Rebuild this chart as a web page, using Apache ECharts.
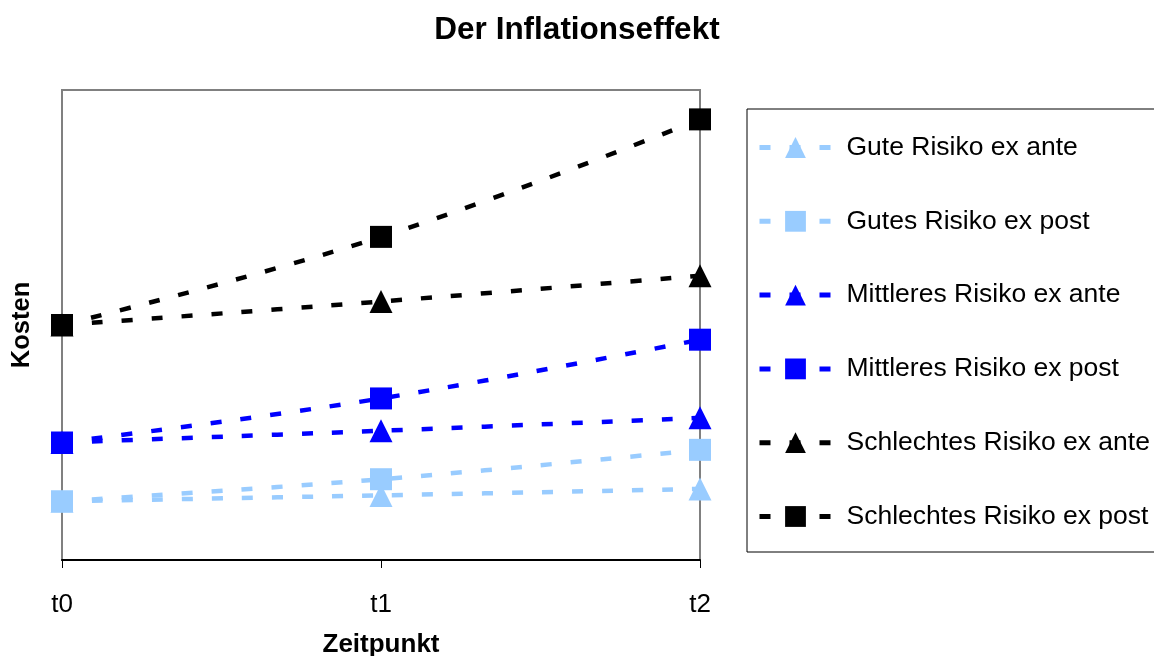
<!DOCTYPE html>
<html>
<head>
<meta charset="utf-8">
<script src="https://cdn.jsdelivr.net/npm/echarts@6/dist/echarts.min.js"></script>
<style>html,body{margin:0;padding:0;background:#fff}#c{width:1154px;height:656px}</style>
</head>
<body>
<div id="c"></div>
<script>
const categories = ['t0', 't1', 't2'];
const seriesNames = ['Gute Risiko ex ante', 'Gutes Risiko ex post', 'Mittleres Risiko ex ante', 'Mittleres Risiko ex post', 'Schlechtes Risiko ex ante', 'Schlechtes Risiko ex post'];
const guteExAnte = [100, 110, 121];
const gutesExPost = [100, 137.5, 187.5];
const mittleresExAnte = [200, 220, 242];
const mittleresExPost = [200, 275, 375];
const schlechtesExAnte = [400, 440, 484];
const schlechtesExPost = [400, 550, 750];

const values = [guteExAnte, gutesExPost, mittleresExAnte, mittleresExPost, schlechtesExAnte, schlechtesExPost];
const colors = ['#99CCFF', '#99CCFF', '#0000FF', '#0000FF', '#000000', '#000000'];
const symbols = ['triangle', 'rect', 'triangle', 'rect', 'triangle', 'rect'];
const font = 'Liberation Sans, Arial, sans-serif';

const chart = echarts.init(document.getElementById('c'), null, {renderer: 'canvas'});
chart.setOption({
  animation: false,
  backgroundColor: '#fff',
  title: {
    text: 'Der Inflationseffekt',
    left: 572, textAlign: 'center', top: 9,
    textStyle: {fontFamily: font, fontSize: 31.5, fontWeight: 'bold', color: '#000'}
  },
  grid: {
    left: 62, right: 454, top: 90, bottom: 96,
    outerBoundsMode: 'none', containLabel: false,
    show: true, borderColor: '#808080', borderWidth: 2, backgroundColor: '#fff'
  },
  legend: {
    orient: 'vertical',
    left: 747, top: 109,
    padding: [25, 14, 22, 10],
    borderColor: '#000', borderWidth: 1,
    itemWidth: 72, itemHeight: 26, itemGap: 46.8,
    lineStyle: {width: 5, type: [11, 19]},
    textStyle: {fontFamily: font, fontSize: 26.5, color: '#000', padding: [0, 0, 0, 10], lineHeight: 26},
    data: seriesNames
  },
  xAxis: {
    type: 'category', data: categories, boundaryGap: false,
    name: 'Zeitpunkt', nameLocation: 'middle', nameGap: 72,
    nameTextStyle: {fontFamily: font, fontSize: 26, fontWeight: 'bold', color: '#000'},
    axisLine: {lineStyle: {color: '#000', width: 2}},
    axisTick: {show: true, alignWithLabel: true, length: 8, inside: false, lineStyle: {color: '#000', width: 1}},
    axisLabel: {fontFamily: font, fontSize: 26, color: '#000', margin: 32},
    splitLine: {show: false}
  },
  yAxis: {
    type: 'value', min: 0, max: 800,
    name: 'Kosten', nameLocation: 'middle', nameGap: 27,
    nameTextStyle: {fontFamily: font, fontSize: 25.5, fontWeight: 'bold', color: '#000'},
    axisLine: {show: false}, axisTick: {show: false}, axisLabel: {show: false}, splitLine: {show: false}
  },
  series: seriesNames.map((n, i) => ({
    name: n, type: 'line', data: values[i], smooth: 0.4,
    symbol: symbols[i], symbolSize: symbols[i] === 'rect' ? 22 : 23,
    showSymbol: true,
    itemStyle: {color: colors[i]},
    lineStyle: {color: colors[i], width: 4.5, type: [11, 19]},
    z: 3 + i
  }))
});
</script>
</body>
</html>
